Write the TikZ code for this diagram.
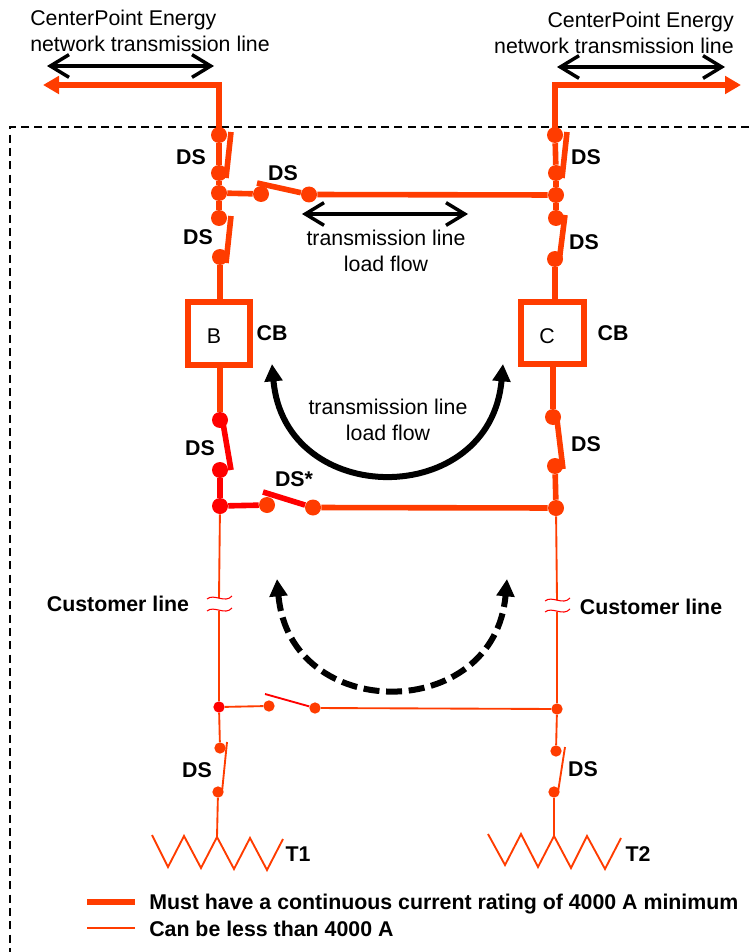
\documentclass[tikz,border=0pt]{standalone}
\usepackage{fontspec}
\setmainfont{Liberation Sans}
\usetikzlibrary{arrows.meta}
\definecolor{lineorange}{HTML}{FF3C00}
\definecolor{linered}{HTML}{FF0000}
\tikzstyle{node_dot} = [circle, fill=lineorange, inner sep=0pt, minimum size=12pt]
\tikzstyle{node_dot_red} = [node_dot, fill=linered]
\tikzstyle{node_dot_small} = [node_dot, minimum size=8.5pt]
\tikzstyle{node_breaker} = [draw=lineorange, line width=4.5pt, minimum width=47pt, minimum height=47pt, inner sep=0pt]
\tikzstyle{label_plain} = [font=\fontsize{16}{19}\selectfont, align=center, inner sep=0pt]
\tikzstyle{label_bold} = [font=\fontsize{16}{19}\selectfont\bfseries, inner sep=0pt]
\tikzstyle{edge_heavy} = [draw=lineorange, line width=4.2pt]
\tikzstyle{edge_heavy_red} = [draw=linered, line width=4.2pt]
\tikzstyle{edge_thin} = [draw=lineorange, line width=1.4pt]
\tikzstyle{edge_flow} = [line width=2.6pt, {Straight Barb[length=14pt,width=17pt,line width=2.6pt]}-{Straight Barb[length=14pt,width=17pt,line width=2.6pt]}]
\tikzstyle{edge_loop} = [line width=4.5pt, {Triangle[length=13pt,width=13pt]}-{Triangle[length=13pt,width=13pt]}]

\begin{document}
\begin{tikzpicture}[x=0.75pt,y=-0.75pt]
\useasboundingbox (0,0) rectangle (749,952);

% boundary
\coordinate (P1) at (749,127);
\coordinate (P2) at (10,127);
\coordinate (P3) at (10,952);
\draw[line width=1.1pt, dash pattern=on 6pt off 4pt] (P1)--(P2)--(P3);

% left feeder
\coordinate (LT) at (43,85);
\coordinate (LC) at (219,85);
\node (L1) at (219,135) [node_dot] {};
\node (L2) at (219,173) [node_dot] {};
\node (L3) at (219,193) [node_dot] {};
\node (L4) at (219,218) [node_dot] {};
\node (L5) at (220,257) [node_dot] {};
\coordinate (L1b) at (231,132);
\coordinate (L2b) at (226,178);
\coordinate (L4b) at (231,216);
\coordinate (L5b) at (226,263);
\node (B) at (219,333.5) [node_breaker] {};
\node (Btxt) at (214,336) [label_plain] {B};
\draw[edge_heavy, -{Triangle[length=12pt,width=13pt]}] (L1.center)--(LC)--(LT);
\draw[edge_heavy] (L1)--(L2);
\draw[edge_heavy] (L2)--(L3)--(L4);
\draw[edge_heavy] (L1b)--(L2b);
\draw[edge_heavy] (L4b)--(L5b);
\draw[edge_heavy] (L5)--(B.north -| L5);

% right feeder
\coordinate (RT) at (741,85);
\coordinate (RC) at (555,85);
\node (R1) at (555,135) [node_dot] {};
\node (R2) at (556,173) [node_dot] {};
\node (R3) at (556,195) [node_dot] {};
\node (R4) at (556,218) [node_dot] {};
\node (R5) at (555,259) [node_dot] {};
\coordinate (R1b) at (567,132);
\coordinate (R2b) at (562,178);
\coordinate (R4b) at (565,215);
\coordinate (R5b) at (559,262);
\node (C) at (552.5,333) [node_breaker] {};
\node (Ctxt) at (547,336) [label_plain] {C};
\draw[edge_heavy, -{Triangle[length=12pt,width=13pt]}] (R1.center)--(RC)--(RT);
\draw[edge_heavy] (R1)--(R2);
\draw[edge_heavy] (R2)--(R3)--(R4);
\draw[edge_heavy] (R1b)--(R2b);
\draw[edge_heavy] (R4b)--(R5b);
\draw[edge_heavy] (R5)--(R5 |- C.north);

% upper tie
\node (U1) at (261,194) [node_dot] {};
\node (U2) at (309,194.5) [node_dot] {};
\coordinate (U1b) at (257,183);
\draw[edge_heavy] (L3)--(U1);
\draw[edge_heavy] (U1b)--(U2);
\draw[edge_heavy] (U2)--(R3);

% lower left, heavy
\node (M1) at (220,420) [node_dot_red] {};
\node (M2) at (220,470) [node_dot_red] {};
\node (M3) at (220,506) [node_dot_red] {};
\coordinate (M1b) at (223,423);
\coordinate (M2b) at (231,470);
\draw[edge_heavy] (M1 |- B.south)--(M1);
\draw[edge_heavy_red] (M1b)--(M2b);
\draw[edge_heavy_red] (M2)--(M3);

% lower right, heavy
\node (N1) at (553,417) [node_dot] {};
\node (N2) at (555,466) [node_dot] {};
\node (N3) at (556,508) [node_dot] {};
\coordinate (N1b) at (557,420);
\coordinate (N2b) at (563,469);
\draw[edge_heavy] (N1 |- C.south)--(N1);
\draw[edge_heavy] (N1b)--(N2b);
\draw[edge_heavy] (N2)--(N3);

% middle tie
\node (V1) at (267,505) [node_dot] {};
\node (V2) at (313,507.5) [node_dot] {};
\coordinate (V1b) at (263,492);
\draw[edge_heavy_red] (M3)--(V1);
\draw[edge_heavy_red] (V1b)--(V2);
\draw[edge_heavy] (V2)--(N3);

% customer lines
\coordinate (W1) at (219,598);
\coordinate (W2) at (219,611);
\coordinate (W3) at (557,600);
\coordinate (W4) at (557,612);
\node (Q1) at (219,707) [node_dot_small, fill=linered] {};
\node (Q2) at (269,706) [node_dot_small] {};
\node (Q3) at (315,708) [node_dot_small] {};
\node (Q4) at (557,709) [node_dot_small] {};
\coordinate (Q2b) at (265,694);
\draw[edge_thin] (M3)--(W1);
\draw[edge_thin] (W2)--(Q1);
\draw[edge_thin] (N3)--(W3);
\draw[edge_thin] (W4)--(Q4);
\draw[edge_thin] (Q1)--(Q2);
\draw[edge_thin, draw=linered] (Q2b)--(Q3);
\draw[edge_thin] (Q3)--(Q4);
\foreach \wx/\wy in {220/598,220/610,558/600,558/611}
  \draw[draw=linered, line width=0.8pt] (\wx-13,\wy+1) .. controls (\wx-6,\wy-5) and (\wx+5,\wy+6) .. (\wx+12,\wy-2);

% transformer branches
\node (S1) at (220,748) [node_dot_small] {};
\node (S2) at (218,792) [node_dot_small] {};
\coordinate (S1b) at (227,742);
\coordinate (S2b) at (222,792);
\coordinate (S3) at (217,837);
\node (Z1) at (556,751) [node_dot_small] {};
\node (Z2) at (554,792) [node_dot_small] {};
\coordinate (Z1b) at (565,747);
\coordinate (Z2b) at (558,792);
\coordinate (Z3) at (554,836);
\draw[edge_thin] (Q1)--(S1);
\draw[edge_thin] (S1b)--(S2b);
\draw[edge_thin] (S2)--(S3);
\draw[edge_thin] (Q4)--(Z1);
\draw[edge_thin] (Z1b)--(Z2b);
\draw[edge_thin] (Z2)--(Z3);
\draw[edge_thin] (152,835)--(168,867)--(184,836)--(201,868)--(S3)--(234,869)--(250,838)--(267,870)--(283,839);
\draw[edge_thin] (488,834)--(505,865)--(521,834)--(538,867)--(Z3)--(571,868)--(587,836)--(605,869)--(621,838);

% flow arrows
\coordinate (F1) at (47,66);
\coordinate (F2) at (214,66);
\coordinate (F3) at (557,67);
\coordinate (F4) at (725,67);
\coordinate (F5) at (302,214);
\coordinate (F6) at (468,214);
\draw[edge_flow] (F1)--(F2);
\draw[edge_flow] (F3)--(F4);
\draw[edge_flow] (F5)--(F6);
\coordinate (A1) at (272,364);
\coordinate (A2) at (503,364);
\coordinate (A3) at (277,579);
\coordinate (A4) at (507,579);
\draw[edge_loop] (A1) to[out=-85,in=-95,looseness=1.62] (A2);
\draw[edge_loop, dash pattern=on 12pt off 5pt] (A3) to[out=-85,in=-95,looseness=1.62] (A4);

% labels
\node (T1) at (30,31) [label_plain, anchor=west, align=left] {CenterPoint Energy\\network transmission line};
\node (T2) at (734,33) [label_plain, anchor=east, align=right] {CenterPoint Energy\\network transmission line};
\node (T3) at (386,251) [label_plain] {transmission line\\load flow};
\node (T4) at (388,420) [label_plain] {transmission line\\load flow};
\node (D1) at (191,157) [label_bold] {DS};
\node (D2) at (283,173) [label_bold] {DS};
\node (D3) at (198,237) [label_bold] {DS};
\node (D4) at (586,157) [label_bold] {DS};
\node (D5) at (584,242) [label_bold] {DS};
\node (D6) at (200,448) [label_bold] {DS};
\node (D7) at (294,479) [label_bold] {DS*};
\node (D8) at (586,444) [label_bold] {DS};
\node (D9) at (197,770) [label_bold] {DS};
\node (D10) at (583,769) [label_bold] {DS};
\node (B1) at (272,333) [label_bold] {CB};
\node (B2) at (613,333) [label_bold] {CB};
\node (K1) at (118,604) [label_bold] {Customer line};
\node (K2) at (651,607) [label_bold] {Customer line};
\node (X1) at (298,854) [label_bold] {T1};
\node (X2) at (638,854) [label_bold] {T2};

% legend
\coordinate (G1) at (87,902);
\coordinate (G2) at (135,902);
\coordinate (G3) at (87,928);
\coordinate (G4) at (135,928);
\draw[edge_heavy] (G1)--(G2);
\draw[edge_thin] (G3)--(G4);
\node (H1) at (149,904) [label_bold, anchor=west] {Must have a continuous current rating of 4000 A minimum};
\node (H2) at (149,929) [label_bold, anchor=west] {Can be less than 4000 A};
\end{tikzpicture}
\end{document}
